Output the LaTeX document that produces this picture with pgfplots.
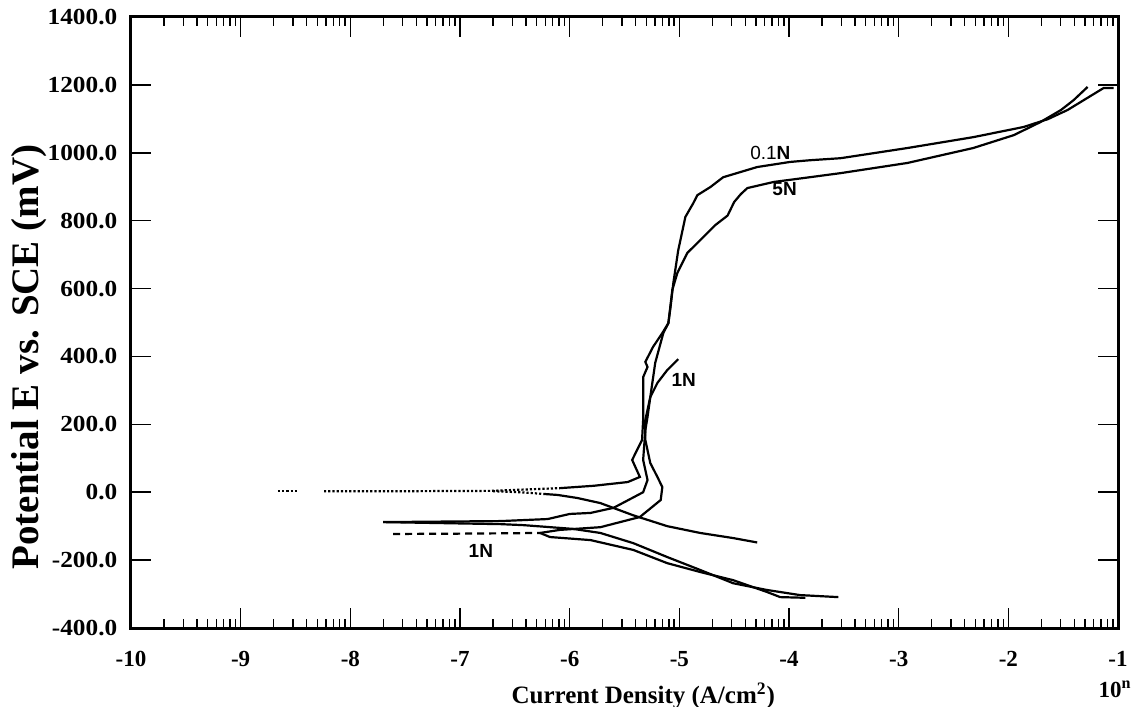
\documentclass[border=0pt]{standalone}
\usepackage{fontspec}
\setmainfont{Liberation Serif}
\newfontfamily\lsans{Liberation Sans}
\usepackage{pgfplots}
\pgfplotsset{compat=1.18}
\begin{document}
\begin{tikzpicture}[cv/.style={black, line width=1.1pt, mark=none}]
\begin{axis}[
  name=ax,
  scale only axis,
  width=493.5pt, height=305.5pt,
  xmin=-10, xmax=-1, ymin=-400, ymax=1400,
  xtick={-10,-9,-8,-7,-6,-5,-4,-3,-2,-1},
  xticklabels={-10,-9,-8,-7,-6,-5,-4,-3,-2,-1},
  minor xtick={-9.699,-9.523,-9.398,-9.301,-9.222,-9.155,-9.097,-9.046,
    -8.699,-8.523,-8.398,-8.301,-8.222,-8.155,-8.097,-8.046,
    -7.699,-7.523,-7.398,-7.301,-7.222,-7.155,-7.097,-7.046,
    -6.699,-6.523,-6.398,-6.301,-6.222,-6.155,-6.097,-6.046,
    -5.699,-5.523,-5.398,-5.301,-5.222,-5.155,-5.097,-5.046,
    -4.699,-4.523,-4.398,-4.301,-4.222,-4.155,-4.097,-4.046,
    -3.699,-3.523,-3.398,-3.301,-3.222,-3.155,-3.097,-3.046,
    -2.699,-2.523,-2.398,-2.301,-2.222,-2.155,-2.097,-2.046,
    -1.699,-1.523,-1.398,-1.301,-1.222,-1.155,-1.097,-1.046},
  ytick={-400,-200,0,200,400,600,800,1000,1200,1400},
  yticklabels={-400.0,-200.0,0.0,200.0,400.0,600.0,800.0,1000.0,1200.0,1400.0},
  tick align=inside,
  major tick length=10pt, minor tick length=4.5pt,
  tick style={black, line width=0.8pt},
  axis line style={line width=1.5pt},
  ticklabel style={font=\bfseries\fontsize{11.5}{13}\selectfont},
  xticklabel style={yshift=-8pt},
  yticklabel style={xshift=-3pt, xscale=1.1},
  xlabel={Current Density (A/cm\textsuperscript{2})},
  ylabel={Potential E vs. SCE (mV)},
  xlabel style={font=\bfseries\fontsize{12.5}{14}\selectfont,
    at={(axis description cs:0.519,0)}, anchor=north, yshift=-24pt},
  ylabel style={font=\bfseries\fontsize{19.5}{21}\selectfont,
    at={(axis description cs:-0.1035,0.4435)}, anchor=center},
]
% 0.1N
\addplot[cv, densely dotted] coordinates {(-8.66,3) (-8.48,3)};
\addplot[cv, densely dotted] coordinates {(-8.24,3) (-7.5,3) (-6.72,4) (-6.09,12)};
\addplot[cv] coordinates {(-6.09,12) (-5.78,19) (-5.47,30) (-5.36,45) (-5.43,95) (-5.40,115)
  (-5.34,154) (-5.33,213) (-5.33,251) (-5.33,292) (-5.33,339) (-5.29,369) (-5.31,384)
  (-5.24,428) (-5.155,469) (-5.10,498) (-5.08,546) (-5.055,616) (-5.01,713) (-4.945,811)
  (-4.872,852) (-4.836,875) (-4.717,899) (-4.60,928) (-4.29,958) (-3.99,973) (-3.81,978)
  (-3.53,984) (-2.92,1014) (-2.32,1046) (-1.86,1076) (-1.64,1099) (-1.46,1126)
  (-1.13,1191) (-1.04,1191)};
\addplot[cv, densely dotted] coordinates {(-6.70,3) (-6.45,0) (-6.24,-5)};
\addplot[cv] coordinates {(-6.24,-5) (-6.11,-8) (-5.93,-17) (-5.72,-32) (-5.42,-68)
  (-5.11,-100) (-4.81,-120) (-4.51,-135) (-4.29,-148)};
% 5N
\addplot[cv] coordinates {(-7.70,-88) (-6.63,-85) (-6.20,-79) (-6.00,-64) (-5.81,-61)
  (-5.60,-46) (-5.33,0) (-5.29,36) (-5.33,95) (-5.31,183) (-5.29,222) (-5.265,280)
  (-5.22,381) (-5.146,469) (-5.10,498) (-5.064,596) (-5.018,646) (-4.927,705)
  (-4.808,743) (-4.672,787) (-4.56,815) (-4.50,855) (-4.44,878) (-4.38,896)
  (-4.14,914) (-3.81,928) (-3.53,940) (-2.92,970) (-2.32,1014) (-1.95,1052)
  (-1.71,1090) (-1.52,1126) (-1.405,1155) (-1.277,1194)};
\addplot[cv] coordinates {(-7.70,-88) (-6.63,-94) (-6.42,-97) (-5.97,-108) (-5.72,-120)
  (-5.42,-150) (-5.11,-191) (-4.81,-229) (-4.51,-268) (-4.20,-288) (-3.90,-303)
  (-3.55,-309)};
% 1N
\addplot[cv, dash pattern=on 3.5pt off 2.5pt] coordinates {(-7.61,-123) (-7.0,-122) (-6.6,-121) (-6.27,-120)};
\addplot[cv] coordinates {(-6.27,-120) (-6.18,-132) (-5.81,-141) (-5.42,-170) (-5.11,-209)
  (-4.81,-235) (-4.51,-259) (-4.20,-294) (-4.08,-309) (-3.85,-311)};
\addplot[cv] coordinates {(-6.27,-120) (-6.09,-111) (-5.72,-103) (-5.36,-73) (-5.17,-23)
  (-5.155,15) (-5.20,45) (-5.265,86) (-5.31,154) (-5.31,213) (-5.265,280) (-5.20,322)
  (-5.11,360) (-5.01,392)};
% labels
\node[font=\lsans\fontsize{9.5}{11}\selectfont] at (axis cs:-4.17,999) {0.1\textbf{N}};
\node[font=\lsans\bfseries\fontsize{9.5}{11}\selectfont] at (axis cs:-4.04,893) {5N};
\node[font=\lsans\bfseries\fontsize{9.5}{11}\selectfont] at (axis cs:-4.96,330) {1N};
\node[font=\lsans\bfseries\fontsize{9.5}{11}\selectfont] at (axis cs:-6.81,-173) {1N};
\end{axis}
\node[anchor=base east, inner sep=0, font=\bfseries\fontsize{11.5}{13}\selectfont]
  at ([shift={(7pt,-34.5pt)}]ax.south east) {10\textsuperscript{n}};
\pgfresetboundingbox
\path[use as bounding box] ([shift={(-65.5pt,-39pt)}]ax.south west) rectangle ([shift={(8.5pt,8.5pt)}]ax.north east);
\end{tikzpicture}
\end{document}
